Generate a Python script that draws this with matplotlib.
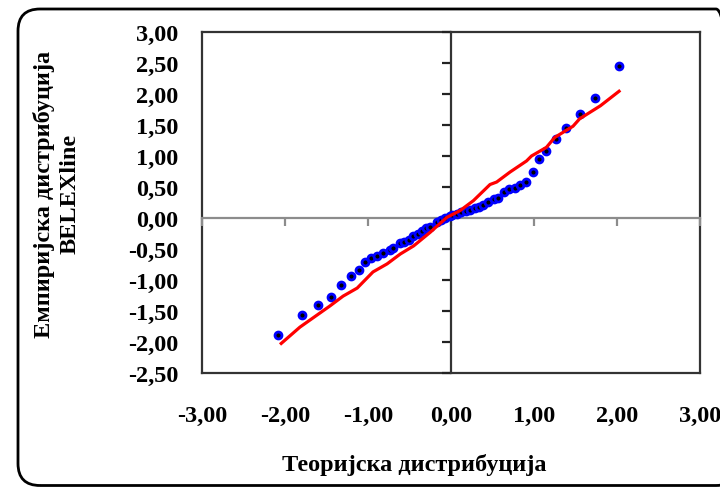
import matplotlib
matplotlib.use("Agg")
import matplotlib.pyplot as plt
from matplotlib.patches import FancyBboxPatch

theor_x = [-2.08, -1.79, -1.60, -1.45, -1.33, -1.21, -1.11, -1.04, -0.96, -0.89,
           -0.82, -0.74, -0.70, -0.62, -0.57, -0.51, -0.46, -0.40, -0.35, -0.30,
           -0.25, -0.17, -0.12, -0.07, -0.01,
           0.01, 0.07, 0.12, 0.18, 0.23, 0.29, 0.34, 0.39, 0.45, 0.52,
           0.57, 0.64, 0.70, 0.77, 0.83, 0.90, 0.99, 1.06, 1.15, 1.27,
           1.39, 1.55, 1.73, 2.03]
empir_y = [-1.88, -1.56, -1.40, -1.27, -1.08, -0.94, -0.84, -0.71, -0.65, -0.61,
           -0.57, -0.51, -0.48, -0.41, -0.38, -0.35, -0.29, -0.25, -0.21, -0.16,
           -0.15, -0.06, -0.03, 0.00, 0.04,
           0.05, 0.06, 0.09, 0.12, 0.13, 0.16, 0.17, 0.21, 0.26, 0.31,
           0.33, 0.42, 0.46, 0.49, 0.53, 0.58, 0.75, 0.95, 1.08, 1.27,
           1.45, 1.67, 1.93, 2.45]

# Red reference line
line_x = [-2.06, -1.82, -1.46, -1.30, -1.13, -0.94, -0.77, -0.61, -0.45, -0.25,
          -0.05, 0.11, 0.27, 0.47, 0.55, 0.71, 0.91, 0.97, 1.15, 1.25,
          1.47, 1.55, 1.80, 2.04]
line_y = [-2.04, -1.76, -1.42, -1.26, -1.13, -0.87, -0.74, -0.58, -0.45, -0.23,
          0.01, 0.12, 0.28, 0.54, 0.58, 0.74, 0.92, 1.00, 1.14, 1.30,
          1.48, 1.60, 1.81, 2.06]

x_ticks = [-3, -2, -1, 0, 1, 2, 3]
y_ticks = [-2.5, -2.0, -1.5, -1.0, -0.5, 0.0, 0.5, 1.0, 1.5, 2.0, 2.5, 3.0]

def fmt(v):
    return f"{v:.2f}".replace(".", ",")

plt.rcParams['font.family'] = ['Liberation Serif', 'DejaVu Serif']
plt.rcParams['font.weight'] = 'bold'

W, H = 720, 489
FS = 17.5
fig = plt.figure(figsize=(7.2, 4.89), dpi=100)

# Rounded chart border (in pixels, right edge off-canvas)
fig.patches.append(FancyBboxPatch((18, 2.5), 720, 476.5,
                                  boxstyle="round,pad=0,rounding_size=22",
                                  transform=None, facecolor='none',
                                  edgecolor='black', linewidth=2.0, zorder=0))

pos = [202 / W, 1 - 374 / H, (700 - 202) / W, (374 - 33) / H]

# Frame + labels axes
ax2 = fig.add_axes(pos)
ax2.set_xlim(-3, 3)
ax2.set_ylim(-2.5, 3.0)
ax2.set_xticks(x_ticks)
ax2.set_yticks(y_ticks)
ax2.set_xticklabels([fmt(v) for v in x_ticks])
ax2.set_yticklabels([fmt(v) for v in y_ticks])
ax2.tick_params(length=0, labelsize=FS)
ax2.tick_params(axis='y', pad=17)
ax2.tick_params(axis='x', pad=23)
for s in ax2.spines.values():
    s.set_color('#333333')
    s.set_linewidth(1.6)
ax2.patch.set_alpha(0)

# Data axes with cross axes at zero
ax = fig.add_axes(pos, sharex=ax2, sharey=ax2)
ax.patch.set_alpha(0)
ax.spines['top'].set_visible(False)
ax.spines['right'].set_visible(False)
ax.spines['left'].set_position(('data', 0))
ax.spines['bottom'].set_position(('data', 0))
ax.spines['left'].set_color('#333333')
ax.spines['left'].set_linewidth(1.6)
ax.spines['bottom'].set_color('#8c8c8c')
ax.spines['bottom'].set_linewidth(1.6)
ax.tick_params(axis='y', direction='out', length=6.5, width=1.6, color='#222222',
               labelleft=False)
ax.tick_params(axis='x', direction='out', length=6, width=1.6, color='#8c8c8c',
               labelbottom=False)

ax.plot(theor_x, empir_y, linestyle='none', marker='o', markersize=5,
        markerfacecolor='black', markeredgecolor='#0000ff', markeredgewidth=2.0,
        zorder=3)
ax.plot(line_x, line_y, color='#ff0000', linewidth=2.3, zorder=4,
        solid_capstyle='butt')

fig.text(414 / W, 1 - 465 / H, "Теоријска дистрибуција", ha='center', va='center',
         fontsize=FS, fontweight='bold')
fig.text(57 / W, 1 - 194 / H, "Емпиријска дистрибуција\nBELEXline", ha='center',
         va='center', rotation=90, fontsize=FS, fontweight='bold',
         multialignment='center', linespacing=1.3)

fig.savefig("out.png", dpi=100)
